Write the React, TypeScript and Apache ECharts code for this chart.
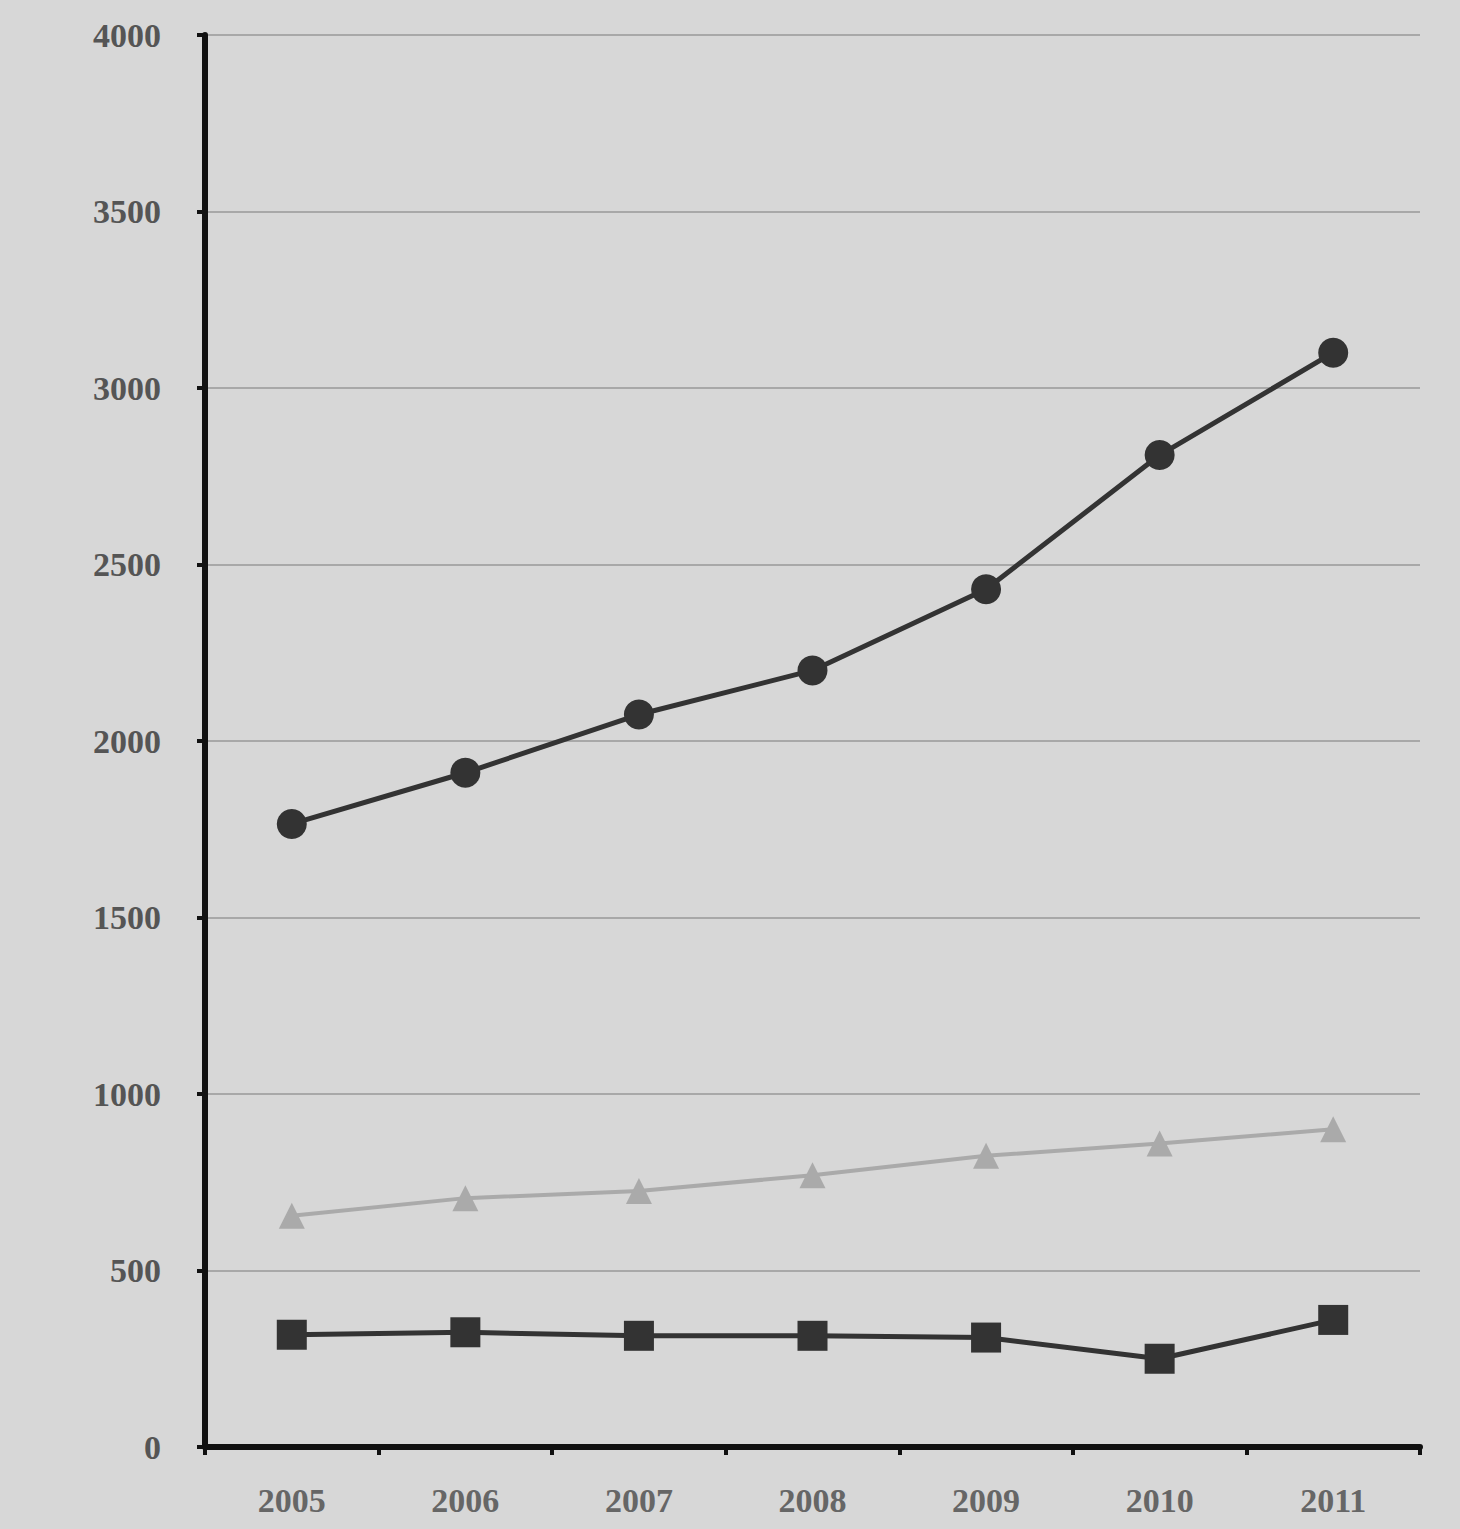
import React, { useEffect, useRef } from "react";
import * as echarts from "echarts";

const years = ["2005", "2006", "2007", "2008", "2009", "2010", "2011"];
const circleSeries = [1765, 1910, 2075, 2200, 2430, 2810, 3100];
const triangleSeries = [655, 705, 725, 770, 825, 860, 900];
const squareSeries = [318, 325, 315, 315, 310, 250, 360];

export default function App() {
  const ref = useRef<HTMLDivElement>(null);
  useEffect(() => {
    if (!ref.current) return;
    const chart = echarts.init(ref.current, null, { renderer: "svg" });
    const font = "'Liberation Serif', 'DejaVu Serif', serif";
    chart.setOption({
      animation: false,
      backgroundColor: "#d7d7d7",
      grid: { left: 205, right: 40, top: 35, bottom: 82, containLabel: false },
      xAxis: {
        type: "category",
        data: years,
        boundaryGap: true,
        axisLine: { lineStyle: { color: "#111", width: 6 } },
        axisTick: { show: true, length: 8, lineStyle: { color: "#111", width: 4 } },
        axisLabel: { color: "#666", fontFamily: font, fontSize: 34, fontWeight: "bold", margin: 36 },
        splitLine: { show: false },
      },
      yAxis: {
        type: "value",
        min: 0,
        max: 4000,
        interval: 500,
        axisLine: { show: true, lineStyle: { color: "#111", width: 6 } },
        axisTick: { show: true, length: 8, lineStyle: { color: "#111", width: 4 } },
        axisLabel: {
          color: "#555",
          fontFamily: font,
          fontSize: 34,
          fontWeight: "bold",
          margin: 44,
          formatter: (v: number) => String(v),
        },
        splitLine: { show: true, lineStyle: { color: "#a8a8a8", width: 2 } },
      },
      series: [
        {
          type: "line",
          data: circleSeries,
          symbol: "circle",
          symbolSize: 30,
          lineStyle: { color: "#333", width: 5 },
          itemStyle: { color: "#333" },
        },
        {
          type: "line",
          data: triangleSeries,
          symbol: "triangle",
          symbolSize: 26,
          lineStyle: { color: "#aaa", width: 4 },
          itemStyle: { color: "#aaa" },
        },
        {
          type: "line",
          data: squareSeries,
          symbol: "rect",
          symbolSize: 30,
          lineStyle: { color: "#333", width: 5 },
          itemStyle: { color: "#333" },
        },
      ],
    });
    return () => chart.dispose();
  }, []);
  return (
    <div
      ref={ref}
      style={{ position: "absolute", left: 0, top: 0, width: 1460, height: 1529 }}
    />
  );
}
